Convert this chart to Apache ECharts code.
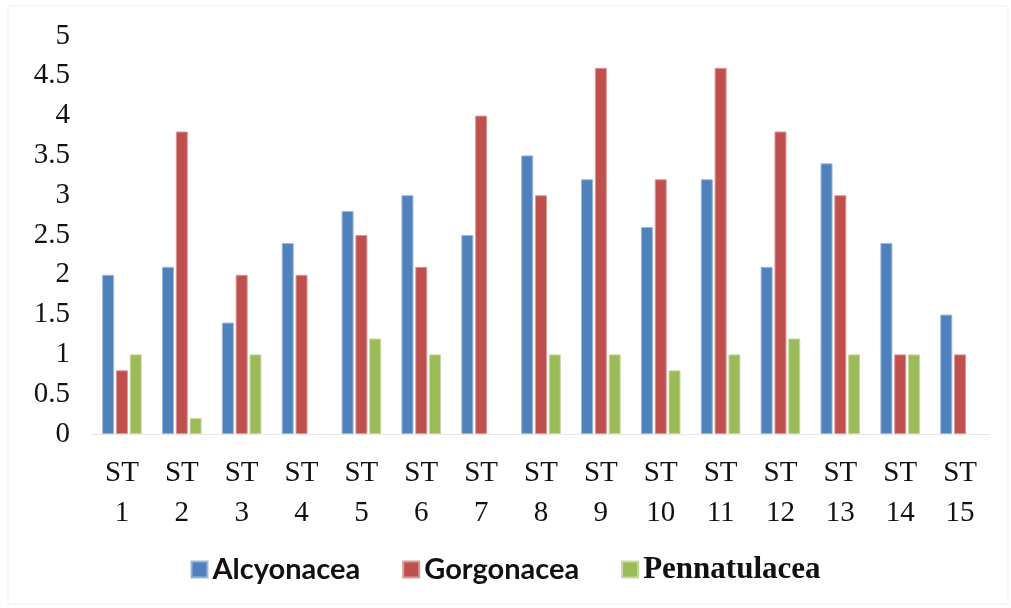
<!DOCTYPE html>
<html><head><meta charset="utf-8">
<script src="https://cdn.jsdelivr.net/npm/echarts@6/dist/echarts.min.js"></script>
<style>html,body{margin:0;padding:0;background:#fff}#c{width:1011px;height:608px}</style>
</head><body><div id="c"></div>
<script>
const categories = ['ST\n1','ST\n2','ST\n3','ST\n4','ST\n5','ST\n6','ST\n7','ST\n8','ST\n9','ST\n10','ST\n11','ST\n12','ST\n13','ST\n14','ST\n15'];
const alcyonacea = [2.0,2.1,1.4,2.4,2.8,3.0,2.5,3.5,3.2,2.6,3.2,2.1,3.4,2.4,1.5];
const gorgonacea = [0.8,3.8,2.0,2.0,2.5,2.1,4.0,3.0,4.6,3.2,4.6,3.8,3.0,1.0,1.0];
const pennatulacea = [1.0,0.2,1.0,0,1.2,1.0,0,1.0,1.0,0.8,1.0,1.2,1.0,1.0,0];
const seriesNames = ['Alcyonacea','Gorgonacea','Pennatulacea'];
const colors = ['#4F81BD','#C0504D','#9BBB59'];
const borders = ['#9db7d9','#dc9896','#c7d9a3'];
const chart = echarts.init(document.getElementById('c'));
const serif = '"Liberation Serif","Times New Roman",serif';
const mk = (i, data) => ({
  name: seriesNames[i], type: 'bar',
  data: data.map(v => v === 0 ? {value: v, itemStyle: {borderWidth: 0}} : v),
  barWidth: 12, barGap: '15%',
  itemStyle: {color: colors[i], borderColor: borders[i], borderWidth: 1}
});
chart.setOption({
  animation: false,
  graphic: [{type:'rect', shape:{x:8,y:6,width:1000,height:598}, style:{fill:'none', stroke:'#f0f0f0', lineWidth:1}}],
  grid: {left: 92, right: 21, top: 36, bottom: 174},
  legend: {
    bottom: 18, left: 'center', itemWidth: 16, itemHeight: 16, itemGap: 42,
    icon: 'rect',
    data: seriesNames,
    formatter: n => n === 'Pennatulacea' ? '{s|' + n + '}' : '{c|' + n + '}',
    textStyle: {
      rich: {
        c: {fontFamily: 'Lato, "Open Sans", sans-serif', fontWeight: 'bold', fontSize: 29, color: '#111'},
        s: {fontFamily: serif, fontWeight: 'bold', fontSize: 31, color: '#111'}
      }
    }
  },
  xAxis: {
    type: 'category', data: categories,
    axisLine: {lineStyle: {color: '#e6e6e6', width: 1}},
    axisTick: {show: false},
    axisLabel: {fontFamily: serif, fontSize: 29, color: '#111', lineHeight: 40, margin: 19, interval: 0}
  },
  yAxis: {
    type: 'value', min: 0, max: 5, interval: 0.5,
    axisLine: {show: false}, axisTick: {show: false}, splitLine: {show: false},
    axisLabel: {fontFamily: serif, fontSize: 29, color: '#111', margin: 22}
  },
  series: [mk(0, alcyonacea), mk(1, gorgonacea), mk(2, pennatulacea)]
});
</script></body></html>
